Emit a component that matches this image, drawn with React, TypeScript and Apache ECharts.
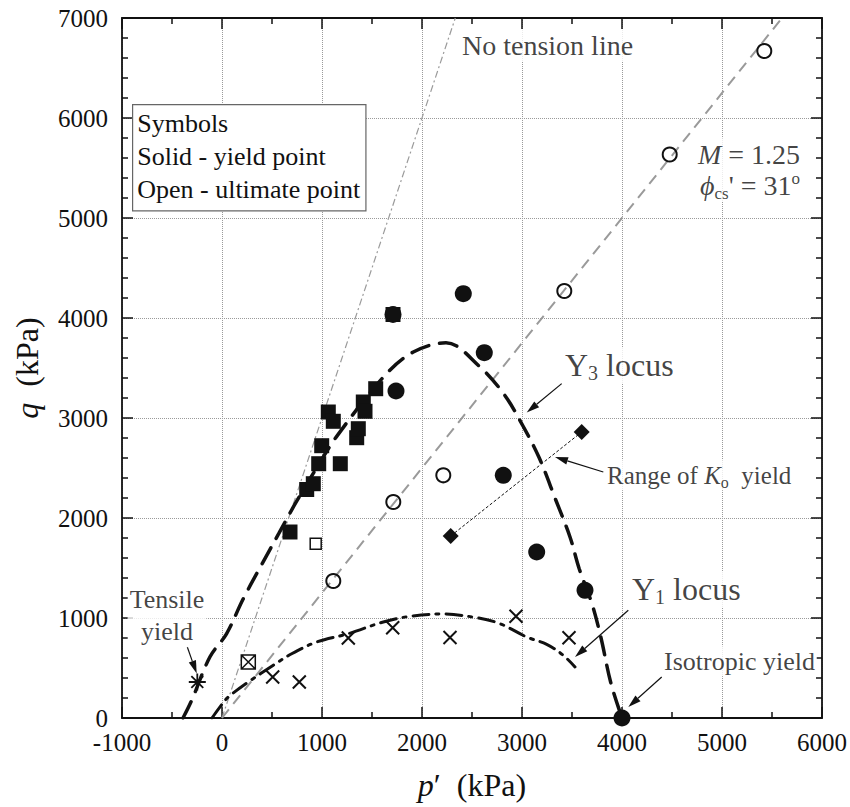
import React, { useEffect, useRef } from 'react';
import * as echarts from 'echarts';

const FONT = "'Liberation Serif', 'Times New Roman', Times, serif";
const INK = '#111';
const GREY = '#9a9a9a';

// axis ranges (kPa)
const xRange = { min: -1000, max: 6000, interval: 1000 };
const yRange = { min: 0, max: 7000, interval: 1000 };

// data: [p', q] in kPa
const solidSquares: number[][] = [
  [680, 1860], [847, 2285], [913, 2343], [967, 2543], [997, 2723], [1063, 3060],
  [1113, 2967], [1183, 2543], [1347, 2803], [1363, 2893], [1413, 3160], [1430, 3067],
  [1537, 3293], [1710, 4035],
];
const solidCircles: number[][] = [
  [1710, 4035], [1740, 3270], [2413, 4243], [2623, 3653], [2813, 2427],
  [3147, 1660], [3630, 1277], [4000, 0],
];
const openCircles: number[][] = [
  [1113, 1370], [1713, 2160], [2213, 2427], [3423, 4270], [4477, 5635], [5423, 6670],
];
const openSquares: number[][] = [[937, 1743]];
const crosses: number[][] = [
  [507, 410], [773, 360], [1263, 800], [1707, 903], [2280, 805], [2940, 1017], [3470, 803],
];
const boxedCrosses: number[][] = [[263, 560]];
const asterisks: number[][] = [[-247, 360]];
const koDiamonds: number[][] = [[2287, 1820], [3597, 2860]];

const noTensionLine: number[][] = [[0, 0], [2333, 7000]];
const cslLine: number[][] = [[0, 0], [5600, 7000]];

const y3Locus: number[][] = [
  [-390, 0], [-307, 168], [-120, 612], [45, 842], [210, 1187], [397, 1535], [567, 1843],
  [738, 2153], [922, 2462], [1147, 2816], [1633, 3430], [1913, 3660], [2240, 3752],
  [2572, 3518], [2822, 3235], [3010, 2920], [3172, 2602], [3330, 2200], [3480, 1810],
  [3572, 1493], [3697, 1150], [3788, 810], [3888, 352], [4000, 0],
];
const y1Locus: number[][] = [
  [-100, 0], [10, 150], [63, 210], [263, 360], [513, 527], [697, 643], [947, 760],
  [1263, 843], [1613, 960], [1880, 1017], [2200, 1040], [2547, 1003], [2780, 943],
  [3047, 810], [3247, 737], [3413, 627], [3530, 510],
];

// arrows: [fromP, fromQ, toP, toQ]
const arrows: number[][] = [
  [-347, 710, -253, 444],
  [3397, 3344, 3047, 3054],
  [3813, 2460, 3330, 2610],
  [4063, 1077, 3530, 610],
  [4397, 410, 4063, 110],
];

// annotation anchors [p, q]
const noteNoTension = [2380, 6727];
const noteM = [5800, 5637];
const notePhi = [5800, 5325];
const noteTensile = [-550, 1027];
const noteY3 = [3410, 3527];
const noteKo = [3830, 2427];
const noteY1 = [4080, 1287];
const noteIso = [4400, 567];

const legendLines = ['Symbols', 'Solid - yield point', 'Open - ultimate point'];

function richFor(size: number) {
  return {
    i: { fontStyle: 'italic', fontFamily: FONT, fontSize: size, color: INK },
    sub: { fontFamily: FONT, fontSize: Math.round(size * 0.62), color: INK, verticalAlign: 'bottom', lineHeight: Math.round(size * 0.5) },
    sup: { fontFamily: FONT, fontSize: Math.round(size * 0.62), color: INK, verticalAlign: 'top', lineHeight: Math.round(size * 0.55) },
  };
}

function note(pos: number[], text: string, size: number, align: string, lh?: number) {
  return {
    value: pos,
    label: {
      show: true,
      position: [0, 0],
      formatter: text,
      align,
      verticalAlign: 'middle',
      fontFamily: FONT,
      fontSize: size,
      color: INK,
      lineHeight: lh ?? Math.round(size * 1.15),
      backgroundColor: '#fff',
      padding: [0, 2],
      rich: richFor(size),
    },
  };
}

const crossPath = 'path://M0,0L10,10M10,0L0,10';
const boxCrossPath = 'path://M0,0L10,0L10,10L0,10ZM0,0L10,10M10,0L0,10';
const starPath = 'path://M5,0L5,10M0,5L10,5M1.5,1.5L8.5,8.5M8.5,1.5L1.5,8.5';

function buildOption() {
  const tickLabel = { fontFamily: FONT, fontSize: 25, color: INK, formatter: (v: number) => String(v) };
  const axisLine = { show: true, onZero: false, lineStyle: { color: INK, width: 1.8 } };
  const splitLine = { show: true, lineStyle: { color: GREY, type: 'dotted', width: 1 } };
  const mkTick = (len: number) => ({ show: true, inside: true, length: len, lineStyle: { color: INK, width: 1.5 } });
  const nameStyle = {
    fontFamily: FONT, fontSize: 32, color: INK, lineHeight: 34,
    rich: { i: { fontFamily: FONT, fontSize: 32, fontStyle: 'italic', color: INK, lineHeight: 34 } },
  };
  const solid = { color: INK, opacity: 1 };
  const hollow = (w: number) => ({ color: 'transparent', borderColor: INK, borderWidth: w, opacity: 1 });
  return {
    animation: false,
    backgroundColor: '#fff',
    grid: { left: 122, top: 18, width: 700, height: 700, containLabel: false },
    xAxis: [
      {
        type: 'value', ...xRange, position: 'bottom',
        axisLine, axisTick: mkTick(11), minorTick: { show: true, splitNumber: 2, length: 6, lineStyle: { color: INK, width: 1.5 } },
        axisLabel: { ...tickLabel, margin: 12 },
        splitLine, minorSplitLine: { show: false },
        name: '{i|p}′  (kPa)', nameLocation: 'middle', nameGap: 50, nameTextStyle: nameStyle,
      },
      {
        type: 'value', ...xRange, position: 'top',
        axisLine, axisTick: mkTick(11), minorTick: { show: true, splitNumber: 2, length: 6, lineStyle: { color: INK, width: 1.5 } },
        axisLabel: { show: false }, splitLine: { show: false },
      },
    ],
    yAxis: [
      {
        type: 'value', ...yRange, position: 'left',
        axisLine, axisTick: mkTick(11), minorTick: { show: true, splitNumber: 5, length: 6, lineStyle: { color: INK, width: 1.5 } },
        axisLabel: { ...tickLabel, margin: 14 },
        splitLine,
        name: '{i|q}  (kPa)', nameLocation: 'middle', nameGap: 78, nameTextStyle: nameStyle,
      },
      {
        type: 'value', ...yRange, position: 'right',
        axisLine, axisTick: mkTick(11), minorTick: { show: true, splitNumber: 5, length: 6, lineStyle: { color: INK, width: 1.5 } },
        axisLabel: { show: false }, splitLine: { show: false },
      },
    ],
    graphic: [
      {
        type: 'text', left: 132, top: 104, z: 100,
        style: {
          text: legendLines.join('\n'),
          fontFamily: FONT,
          fontSize: 26,
          fill: INK,
          lineHeight: 33,
          backgroundColor: '#fff',
          borderColor: '#666',
          borderWidth: 1.2,
          padding: [2, 5, 4, 4],
        },
      },
    ],
    series: [
      {
        type: 'line', data: noTensionLine, symbol: 'none', silent: true, z: 2,
        lineStyle: { color: GREY, width: 1.2, type: [7, 3, 2, 3] },
      },
      {
        type: 'line', data: cslLine, symbol: 'none', silent: true, z: 2,
        lineStyle: { color: GREY, width: 2, type: [11, 7] },
      },
      {
        type: 'line', data: y3Locus, symbol: 'none', smooth: 0.35, silent: true, z: 3,
        lineStyle: { color: INK, width: 3.5, type: [18, 11], cap: 'round' },
      },
      {
        type: 'line', data: y1Locus, symbol: 'none', smooth: 0.35, silent: true, z: 3,
        lineStyle: { color: INK, width: 3, type: [16, 7, 3, 7], cap: 'round' },
      },
      {
        type: 'line', data: koDiamonds, symbol: 'diamond', symbolSize: 16, showSymbol: true, silent: true, z: 4,
        lineStyle: { color: INK, width: 1, type: [3, 2] },
        itemStyle: solid,
      },
      {
        type: 'scatter', data: solidSquares, symbol: 'rect', symbolSize: 15, silent: true, z: 5,
        itemStyle: solid,
      },
      {
        type: 'scatter', data: solidCircles, symbol: 'circle', symbolSize: 17, silent: true, z: 5,
        itemStyle: solid,
      },
      {
        type: 'scatter', data: openCircles, symbol: 'circle', symbolSize: 14, silent: true, z: 5,
        itemStyle: hollow(2),
      },
      {
        type: 'scatter', data: openSquares, symbol: 'rect', symbolSize: 11, silent: true, z: 5,
        itemStyle: hollow(1.5),
      },
      {
        type: 'scatter', data: crosses, symbol: crossPath, symbolSize: 13, silent: true, z: 5,
        itemStyle: hollow(2),
      },
      {
        type: 'scatter', data: boxedCrosses, symbol: boxCrossPath, symbolSize: 14, silent: true, z: 5,
        itemStyle: hollow(1.5),
      },
      {
        type: 'scatter', data: asterisks, symbol: starPath, symbolSize: 17, silent: true, z: 5,
        itemStyle: hollow(1.8),
      },
      {
        type: 'custom', coordinateSystem: 'cartesian2d', data: arrows, silent: true, z: 6,
        encode: { x: [0, 2], y: [1, 3] },
        renderItem: (_params: any, api: any) => {
          const s = api.coord([api.value(0), api.value(1)]);
          const e = api.coord([api.value(2), api.value(3)]);
          const ang = Math.atan2(e[1] - s[1], e[0] - s[0]);
          const L = 13;
          const W = 3.8;
          const bx = e[0] - L * Math.cos(ang);
          const by = e[1] - L * Math.sin(ang);
          const px = -Math.sin(ang) * W;
          const py = Math.cos(ang) * W;
          return {
            type: 'group',
            children: [
              { type: 'line', shape: { x1: s[0], y1: s[1], x2: bx, y2: by }, style: { stroke: INK, lineWidth: 1.2 } },
              { type: 'polygon', shape: { points: [[e[0], e[1]], [bx + px, by + py], [bx - px, by - py]] }, style: { fill: INK } },
            ],
          };
        },
      },
      {
        type: 'scatter', symbolSize: 0, silent: true, z: 7,
        data: [
          note(noteNoTension, 'No tension line', 28, 'left'),
          note(noteM, '{i|M} = 1.25', 28, 'right', 32),
          note(notePhi, "{i|ϕ}{sub|cs}' = 31{sup|o}", 28, 'right', 32),
          note(noteTensile, 'Tensile\nyield', 26, 'center', 32),
          note(noteY3, 'Y{sub|3} locus', 32, 'left', 36),
          note(noteKo, 'Range of {i|K}{sub|o}  yield', 25, 'left', 30),
          note(noteY1, 'Y{sub|1} locus', 32, 'left', 36),
          note(noteIso, 'Isotropic yield', 26, 'left'),
        ],
      },
    ],
  };
}

export default function App() {
  const ref = useRef<HTMLDivElement>(null);
  useEffect(() => {
    document.body.style.margin = '0';
    const chart = echarts.init(ref.current as HTMLDivElement, null, { renderer: 'svg' });
    chart.setOption(buildOption() as any);
    return () => chart.dispose();
  }, []);
  return <div ref={ref} style={{ position: 'absolute', left: 0, top: 0, width: 850, height: 807, background: '#fff' }} />;
}
